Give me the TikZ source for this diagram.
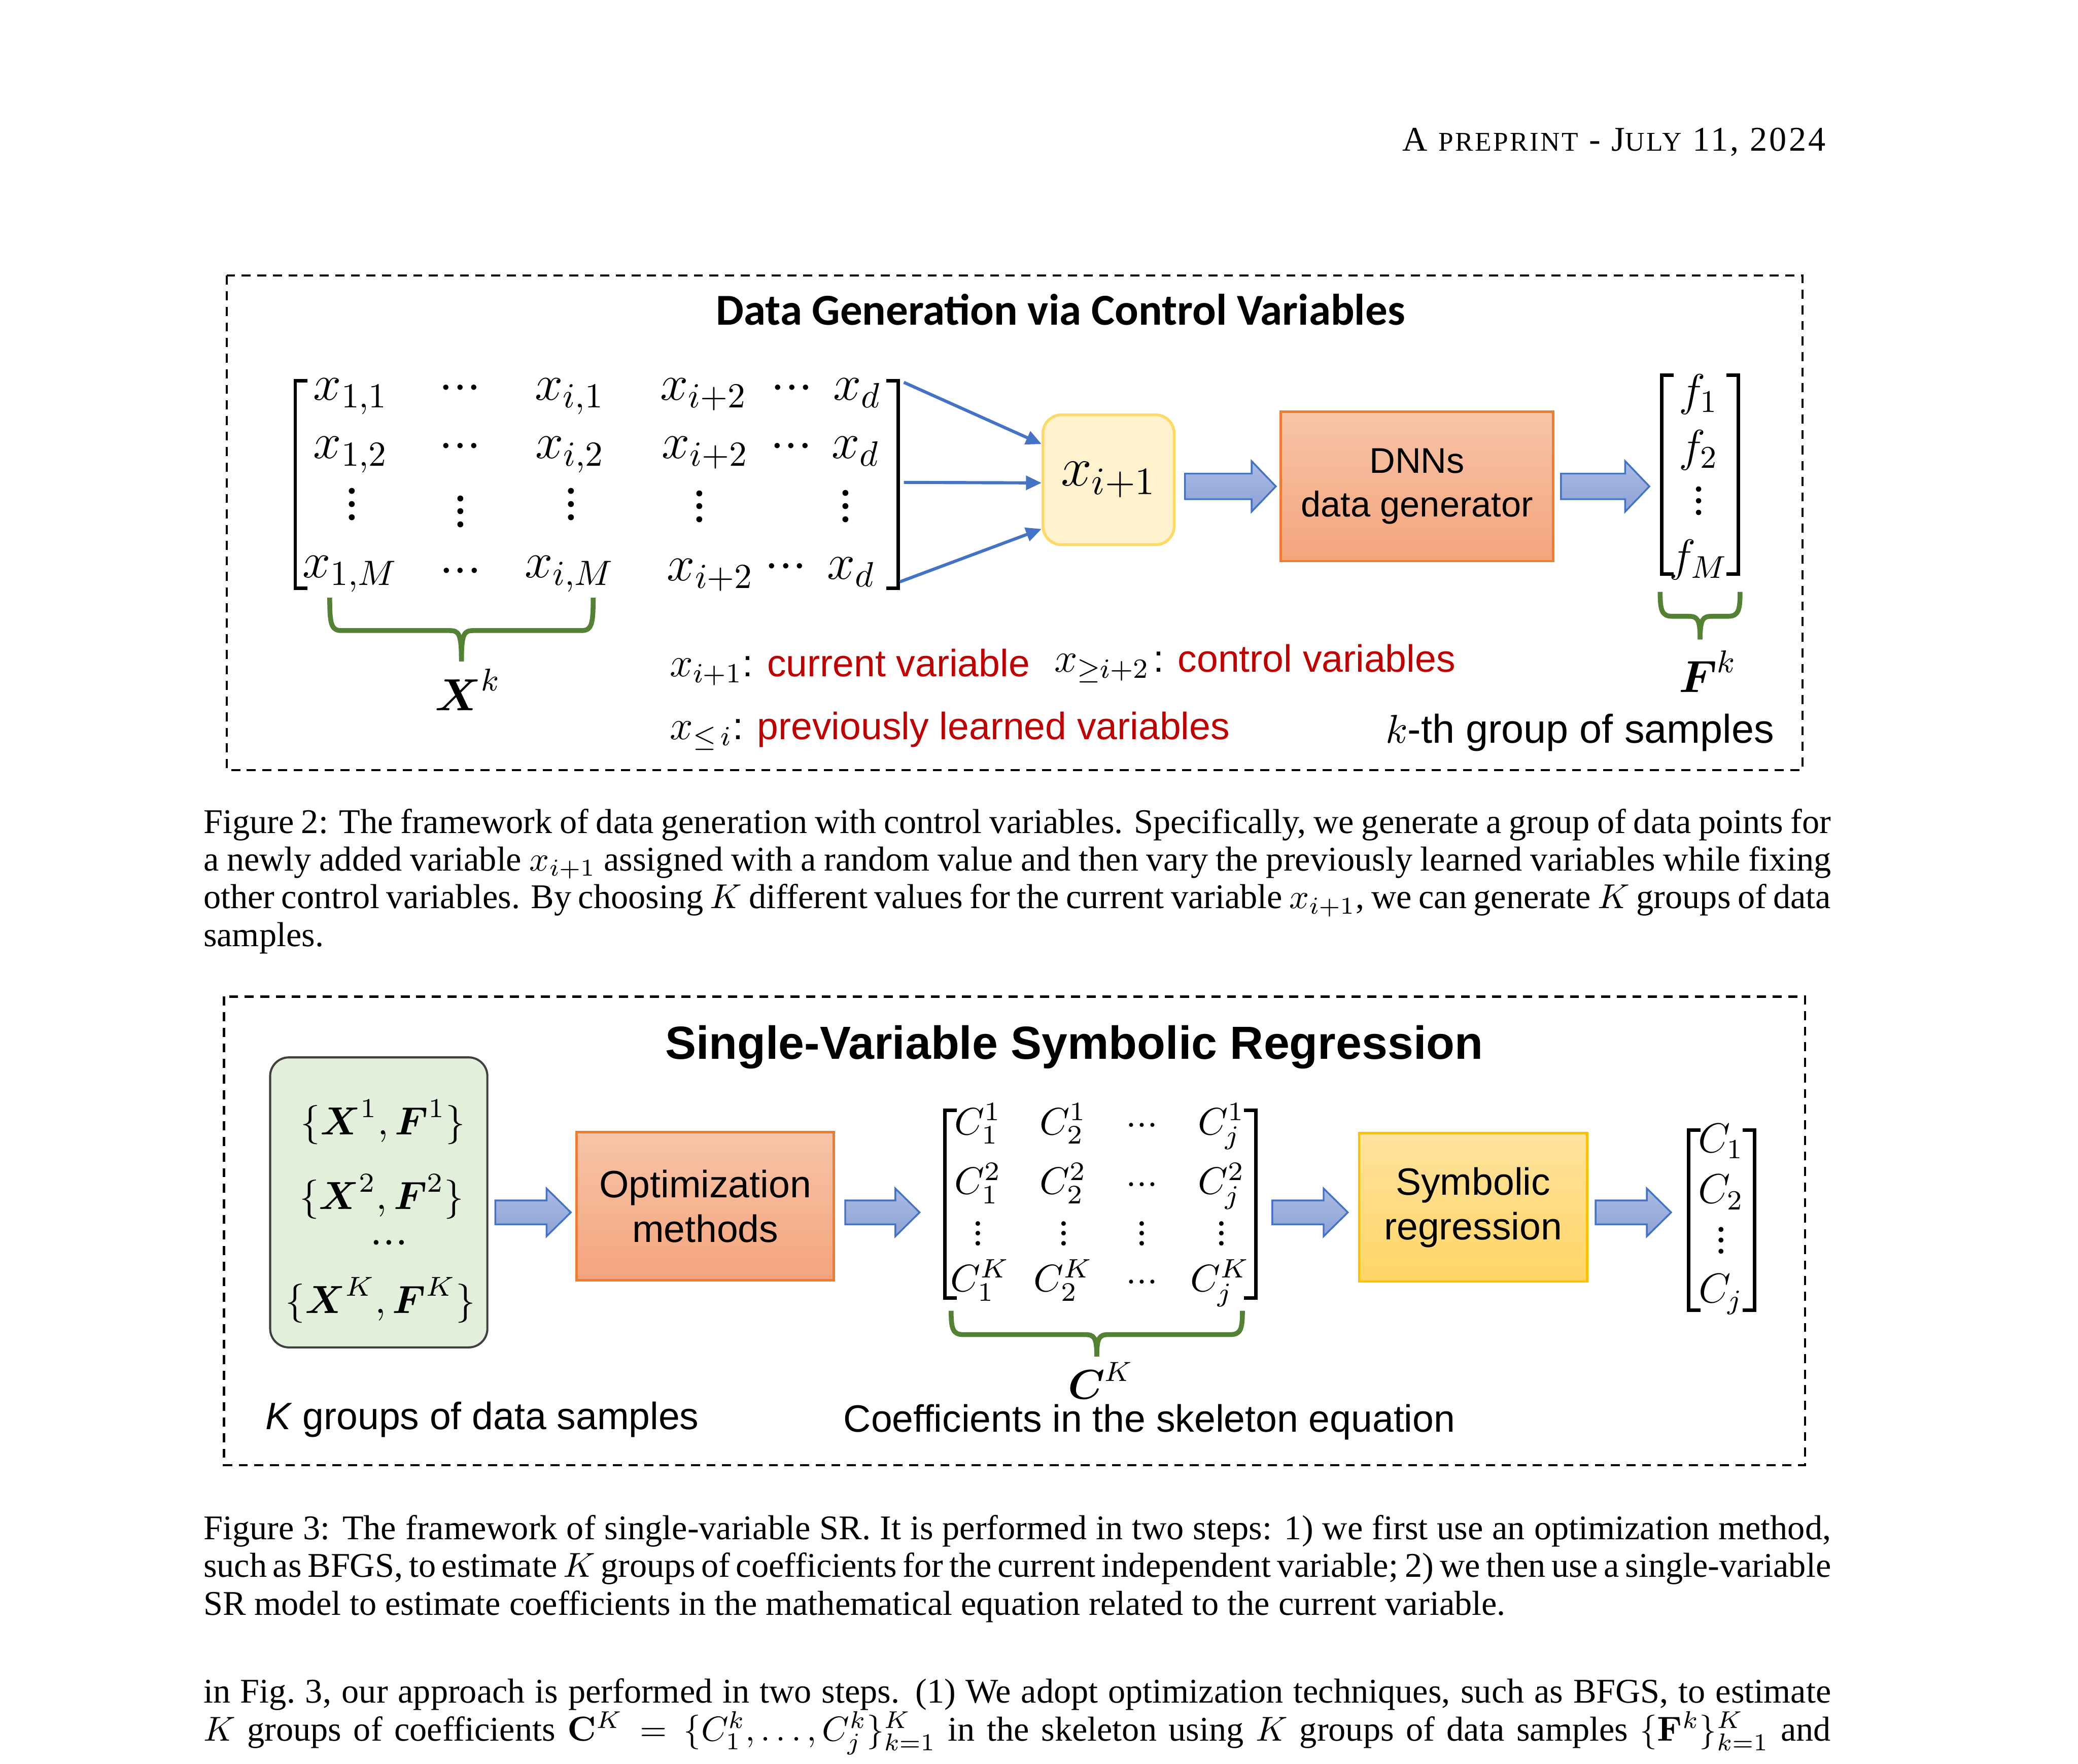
\RequirePackage{fix-cm}
\documentclass[tikz,border=0pt]{standalone}
\usepackage{amsmath}
\usepackage[no-math]{fontspec}
\setmainfont{Liberation Serif}
\setsansfont{Liberation Sans}
\newfontfamily\calibri{Carlito}
\newfontfamily\headfont[LetterSpace=6.5]{Liberation Serif}
\usetikzlibrary{arrows.meta,calc,positioning}

\definecolor{lineblue}{HTML}{4472C4}
\definecolor{braceg}{HTML}{548235}
\definecolor{labred}{HTML}{C00000}
\definecolor{xfill}{HTML}{FFF2CC}
\definecolor{xedge}{HTML}{FFD966}
\definecolor{otop}{HTML}{F7C4A8}
\definecolor{obot}{HTML}{F4A47C}
\definecolor{oedge}{HTML}{ED7D31}
\definecolor{ytop}{HTML}{FFE39E}
\definecolor{ybot}{HTML}{FFD567}
\definecolor{yedge}{HTML}{FFC000}
\definecolor{gfill}{HTML}{E2EFDA}
\definecolor{atop}{HTML}{AABAE2}
\definecolor{abot}{HTML}{8DA3D7}

% dots that follow the font in force
\newcommand{\cdts}{{\cdot}{\cdot}{\cdot}}
\newcommand{\vdts}{\vbox{\baselineskip=0.26em\lineskiplimit=-1em\hbox{.}\hbox{.}\hbox{.}}}
\newcommand{\labm}[1]{{\fontsize{12}{14}\selectfont$#1$}}
% block arrow: from, to, shaft half height, head half height
\newcommand{\fatarrow}[4]{%
  \path (#1) coordinate (fs) (#2) coordinate (fe);
  \path[fat] ([yshift=#3]fs) -- ([xshift=-7pt,yshift=#3]fe) -- ([xshift=-7pt,yshift=#4]fe) -- (fe)
    -- ([xshift=-7pt,yshift=-#4]fe) -- ([xshift=-7pt,yshift=-#3]fe) -- ([yshift=-#3]fs) -- cycle;}

\begin{document}
\begin{tikzpicture}[x=0.3825pt, y=-0.3825pt,
  dashbox/.style={draw, line width=0.6pt, dash pattern=on 2.6pt off 1.9pt},
  ment/.style={inner sep=0pt, anchor=base, font=\fontsize{14.5}{16}\selectfont},
  cent/.style={inner sep=0pt, anchor=base, font=\fontsize{11}{13}\selectfont},
  vent/.style={inner sep=0pt, anchor=base, font=\fontsize{12}{14}\selectfont},
  brk/.style={line width=1pt},
  gbrace/.style={draw=braceg, line width=1.4pt},
  feed/.style={draw=lineblue, line width=0.9pt, -{Triangle[length=4.5pt,width=4pt]}},
  fat/.style={draw=lineblue, line width=0.5pt, top color=atop, bottom color=abot},
  note/.style={inner sep=0pt, anchor=base west, font=\sffamily\fontsize{11}{13}\selectfont},
  captext/.style={inner sep=0pt, anchor=base west, text width=469.75pt, align=justify, font=\fontsize{10}{10.9}\selectfont},
  obox/.style={draw=oedge, line width=0.7pt, top color=otop, bottom color=obot, align=center, font=\sffamily\fontsize{11}{12.9}\selectfont}]
\fill[white] (0,0) rectangle (1568,1331);
\useasboundingbox (0,0) rectangle (1568,1331);

% running head
\node[anchor=base east, inner sep=0pt, font=\headfont\fontsize{10}{12}\selectfont] (head) at (1378.3,114)
  {A {\fontsize{7.8}{9}\selectfont PREPRINT} - J{\fontsize{7.8}{9}\selectfont ULY} 11, 2024};

% ---------- Figure 2 ----------
\draw[dashbox] (171,208) rectangle (1360,581);
\node[inner sep=0pt, anchor=base, font=\calibri\bfseries\fontsize{12.75}{15}\selectfont] (ttlone) at (800.3,245)
  {Data Generation via Control Variables};

\foreach \ent/\px/\py [count=\c] in {
  {x_{1,1}}/264.7/302, \cdts/347.3/302, {x_{i,1}}/429.9/302, {x_{i+2}}/531/302, \cdts/597.6/302, x_d/647/302,
  {x_{1,2}}/264.7/346, \cdts/347.3/346, {x_{i,2}}/430/346, {x_{i+2}}/532/346, \cdts/597/346, x_d/645.6/346,
  {x_{1,M}}/264.2/435.7, \cdts/347.5/440, {x_{i,M}}/429.9/435.7, {x_{i+2}}/536.1/438, \cdts/593/436.5, x_d/642.3/437}
  \node[ment] (md\c) at (\px,\py) {$\ent$};
\foreach \px/\py [count=\c] in {265.6/380.5, 347.4/386, 431/380.5, 527.8/382.2, 638/382}
  \node[ment, anchor=center] (mv\c) at (\px,\py) {\vdts};

\foreach \ent/\py [count=\c] in {f_1/306, f_2/348, f_M/431}
  \node[ment, font=\fontsize{13}{15}\selectfont] (fv\c) at (1281.7,\py) {$\ent$};
\node[ment, anchor=center, font=\fontsize{13}{15}\selectfont] (fvd) at (1281.7,378) {\vdts};

% brackets of the four matrices
\foreach \xl/\xr/\yt/\yb [count=\i] in {222.8/677.8/287.3/444, 1254/1311.6/283/433, 713/947.5/837.8/979.3, 1274.3/1324/852.8/988.5} {
  \draw[brk] (\xl+9,\yt) -| (\xl,\yb) -- (\xl+9,\yb);
  \draw[brk] (\xr-9,\yt) -| (\xr,\yb) -- (\xr-9,\yb);
  \coordinate (bl\i) at (\xl,\yt);
  \coordinate (br\i) at (\xr,\yt);
}

\node[draw=xedge, fill=xfill, line width=0.8pt, rounded corners=5.4pt, minimum width=37.9pt, minimum height=37.5pt,
  inner sep=0pt, font=\fontsize{16}{18}\selectfont] (xi) at (836.5,362) {\raisebox{-2pt}{$x_{i+1}$}};
\node[obox, minimum width=78.6pt, minimum height=43.1pt, font=\sffamily\fontsize{10.3}{12.5}\selectfont] (dnn) at (1069.25,367)
  {DNNs\\data generator};

\coordinate (fa1) at (682,288.5);
\coordinate (fa2) at (682,364);
\coordinate (fa3) at (679,439);
\draw[feed] (fa1) -- ([yshift=10.3pt]xi.west);
\draw[feed] (fa2) -- ([yshift=-0.9pt]xi.west);
\draw[feed] (fa3) -- ([yshift=-14.2pt]xi.west);

\coordinate (laneone) at (0,367);
\fatarrow{[xshift=2.7pt]xi.east |- laneone}{[xshift=-1.1pt]dnn.west |- laneone}{3.7pt}{7.3pt}
\fatarrow{[xshift=1.9pt]dnn.east |- laneone}{[xshift=-3.6pt]bl2 |- laneone}{3.7pt}{7.3pt}

% green braces
\foreach \xl/\xr/\yt/\ym/\yb in {248.8/447.6/451/475.8/499, 1252.7/1313/446.6/465/482.5, 717.7/937.5/989/1007/1023.6} {
  \pgfmathsetmacro\xc{(\xl+\xr)/2}
  \draw[gbrace] (\xl,\yt) .. controls (\xl,\ym-5) and (\xl+1,\ym) .. (\xl+9,\ym) -- (\xc-9,\ym)
    .. controls (\xc-2,\ym) and (\xc,\ym+2) .. (\xc,\yb);
  \draw[gbrace] (\xr,\yt) .. controls (\xr,\ym-5) and (\xr-1,\ym) .. (\xr-9,\ym) -- (\xc+9,\ym)
    .. controls (\xc+2,\ym) and (\xc,\ym+2) .. (\xc,\yb);
}
\node[ment, font=\fontsize{13}{15}\selectfont] (xk) at (353.2,536) {$\boldsymbol{X}^k$};
\node[ment, font=\fontsize{13}{15}\selectfont] (fk) at (1288.6,522.5) {$\boldsymbol{F}^k$};

\node[note] (curvar) at (505,510.3) {\labm{x_{i+1}}: \textcolor{labred}{current variable}};
\node[note] (ctlvar) at (795,506.9) {\labm{x_{\geq i+2}}\kern1pt: \textcolor{labred}{control variables}};
\node[note] (prevvar) at (505,558) {\labm{x_{\leq\, i}}: \textcolor{labred}{previously learned variables}};
\node[note, font=\sffamily\fontsize{11.6}{13}\selectfont] (kgroup) at (1045,560.7) {$k$-th group of samples};

\node[captext] (capone) at (153,628.6) {\noindent Figure 2: The framework of data generation with control variables. Specifically, we generate a group of data points for\linebreak
  a newly added variable $x_{i+1}$ assigned with a random value and then vary the previously learned variables while fixing\linebreak
  other control variables. By choosing $K$ different values for the current variable $x_{i+1}$, we can generate $K$ groups of data\linebreak
  samples.};

% ---------- Figure 3 ----------
\draw[dashbox] (169,752) rectangle (1362,1105.5);
\node[inner sep=0pt, anchor=base, font=\sffamily\bfseries\fontsize{13.4}{16}\selectfont] (ttltwo) at (810.5,799)
  {Single-Variable Symbolic Regression};

\node[draw=black!75, fill=gfill, line width=0.6pt, rounded corners=5.4pt, minimum width=62.7pt, minimum height=83.7pt,
  inner sep=0pt] (gbox) at (285.8,907.25) {};
\foreach \ent/\px/\py [count=\c] in {{\{\boldsymbol{X}^1,\boldsymbol{F}^1\}}/289/856, {\{\boldsymbol{X}^2,\boldsymbol{F}^2\}}/288/912.5,
  {\{\boldsymbol{X}^K,\boldsymbol{F}^K\}}/287/991}
  \node[vent, font=\fontsize{11.3}{13}\selectfont] (gs\c) at (\px,\py) {$\ent$};
\node[vent, font=\fontsize{13}{15}\selectfont] (gsd) at (293.6,946) {$\cdts$};

\node[obox, minimum width=74.3pt, minimum height=42.8pt] (opt) at (532.15,910.2) {Optimization\\methods};
\node[obox, draw=yedge, top color=ytop, bottom color=ybot, minimum width=65.8pt, minimum height=42.8pt] (sr) at (1111.55,911)
  {Symbolic\\regression};

\foreach \ent/\px/\py [count=\c] in {
  C_1^1/738/856, C_2^1/802.3/856, \cdts/861.6/856, C_j^1/921.5/856,
  C_1^2/738/901, C_2^2/802.3/901, \cdts/861.6/901, C_j^2/921.5/901,
  C_1^K/739.5/974.5, C_2^K/802.3/974.5, \cdts/861.6/974.5, C_j^K/920.5/974.5}
  \node[cent] (mc\c) at (\px,\py) {$\ent$};
\foreach \px [count=\c] in {738, 802.7, 861.6, 921.6}
  \node[cent, anchor=center] (mcv\c) at (\px,930.7) {\vdts};

\foreach \ent/\py [count=\c] in {C_1/869.5, C_2/908, C_j/983}
  \node[vent] (cv\c) at (1298.6,\py) {$\ent$};
\node[vent, anchor=center] (cvd) at (1298.6,936) {\vdts};

\coordinate (lanetwo) at (0,914.8);
\fatarrow{[xshift=2pt]gbox.east |- lanetwo}{[xshift=-1.3pt]opt.west |- lanetwo}{3.45pt}{6.9pt}
\fatarrow{[xshift=2.9pt]opt.east |- lanetwo}{[xshift=-7.3pt]bl3 |- lanetwo}{3.45pt}{6.9pt}
\fatarrow{[xshift=4.8pt]br3 |- lanetwo}{[xshift=-2.9pt]sr.west |- lanetwo}{3.45pt}{6.9pt}
\fatarrow{[xshift=2.1pt]sr.east |- lanetwo}{[xshift=-5.1pt]bl4 |- lanetwo}{3.45pt}{6.9pt}

\node[ment, font=\fontsize{12}{14}\selectfont] (ck) at (830.6,1055.5) {$\boldsymbol{C}^K$};
\node[note] (kdata) at (199.7,1078.5) {\textit{K} groups of data samples};
\node[note] (coefs) at (636,1080.5) {Coefficients in the skeleton equation};

\node[captext] (captwo) at (153,1161.6) {\noindent Figure 3: The framework of single-variable SR. It is performed in two steps: 1) we first use an optimization method,\linebreak
  such as BFGS, to estimate $K$ groups of coefficients for the current independent variable; 2) we then use a single-variable\linebreak
  SR model to estimate coefficients in the mathematical equation related to the current variable.};

\node[captext] (body) at (153,1285) {\noindent in Fig.~3, our approach is performed in two steps. (1) We adopt optimization techniques, such as BFGS, to estimate\linebreak
  $K$ groups of coefficients $\mathbf{C}^K = \{C_1^k, \ldots, C_j^k\}_{k=1}^K$ in the skeleton using $K$ groups of data samples $\{\mathbf{F}^k\}_{k=1}^K$ and\linebreak\mbox{}};
\end{tikzpicture}
\end{document}
